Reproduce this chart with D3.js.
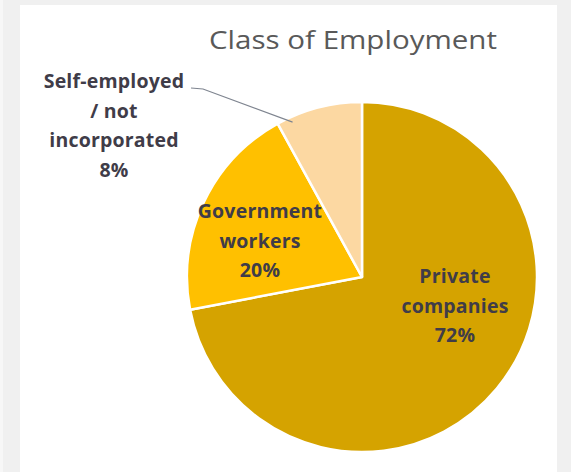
<!DOCTYPE html>
<html>
<head>
<meta charset="utf-8">
<script src="https://cdn.jsdelivr.net/npm/d3@7"></script>
<style>
  html, body { margin: 0; padding: 0; background: #f0f0f0; }
  svg { display: block; }
</style>
</head>
<body>
<svg id="chart" width="571" height="472"></svg>
<script>
// Class of employment shares (percent)
const categories = ["Private companies", "Government workers", "Self-employed / not incorporated"];
const values = [72, 20, 8];
const colors = ["#D5A300", "#FFC000", "#FCD8A2"];
// Label lines for each slice
const labelLines = [
  ["Private", "companies", "72%"],
  ["Government", "workers", "20%"],
  ["Self-employed", "/ not", "incorporated", "8%"]
];
const title = "Class of Employment";

const W = 571, H = 472;
const svg = d3.select("#chart");

// page frame: light strip, gray margin, white chart area
svg.append("rect").attr("x", 0).attr("y", 0).attr("width", W).attr("height", H).attr("fill", "#f0f0f0");
svg.append("rect").attr("x", 0).attr("y", 0).attr("width", 3).attr("height", H).attr("fill", "#f7f7f7");
svg.append("rect").attr("x", 20).attr("y", 5).attr("width", 537).attr("height", H - 5).attr("fill", "#ffffff");

// title
svg.append("text")
  .attr("x", 353).attr("y", 49)
  .attr("text-anchor", "middle")
  .attr("font-family", "'Open Sans', sans-serif")
  .attr("font-size", 25)
  .attr("fill", "#595959")
  .attr("textLength", 288)
  .attr("lengthAdjust", "spacingAndGlyphs")
  .text(title);

// pie
const cx = 362, cy = 277, r = 175;
const pie = d3.pie().sort(null).value(d => d)
  .startAngle(0).endAngle(2 * Math.PI);
const arcs = pie(values);
const arc = d3.arc().innerRadius(0).outerRadius(r);

const g = svg.append("g").attr("transform", `translate(${cx},${cy})`);
g.selectAll("path.slice")
  .data(arcs)
  .join("path")
  .attr("class", "slice")
  .attr("d", arc)
  .attr("fill", (d, i) => colors[i])
  .attr("stroke", "#ffffff")
  .attr("stroke-width", 2.5)
  .attr("stroke-linejoin", "round");

// labels
const fontFamily = "'Open Sans', sans-serif";
const labelColor = "#403c48";
const lineH = 29.7;

function drawLabel(lines, x, yFirst) {
  const t = svg.append("text")
    .attr("text-anchor", "middle")
    .attr("font-family", fontFamily)
    .attr("font-weight", "bold")
    .attr("font-size", 19.5)
    .attr("letter-spacing", 0.2)
    .attr("fill", labelColor);
  lines.forEach((s, k) => {
    t.append("tspan").attr("x", x).attr("y", yFirst + k * lineH).text(s);
  });
}

drawLabel(labelLines[0], 455, 283);
drawLabel(labelLines[1], 260, 218);

// outside label with leader line for the small slice
drawLabel(labelLines[2], 114, 88);
const mid = (arcs[2].startAngle + arcs[2].endAngle) / 2;
const pEdge = [cx + r * 0.97 * Math.sin(mid - 0.17), cy - r * 0.97 * Math.cos(mid - 0.17)];
svg.append("polyline")
  .attr("points", [[191, 88], [203, 89], pEdge].map(p => p.join(",")).join(" "))
  .attr("fill", "none")
  .attr("stroke", "#7f8590")
  .attr("stroke-width", 1.2);
</script>
</body>
</html>
